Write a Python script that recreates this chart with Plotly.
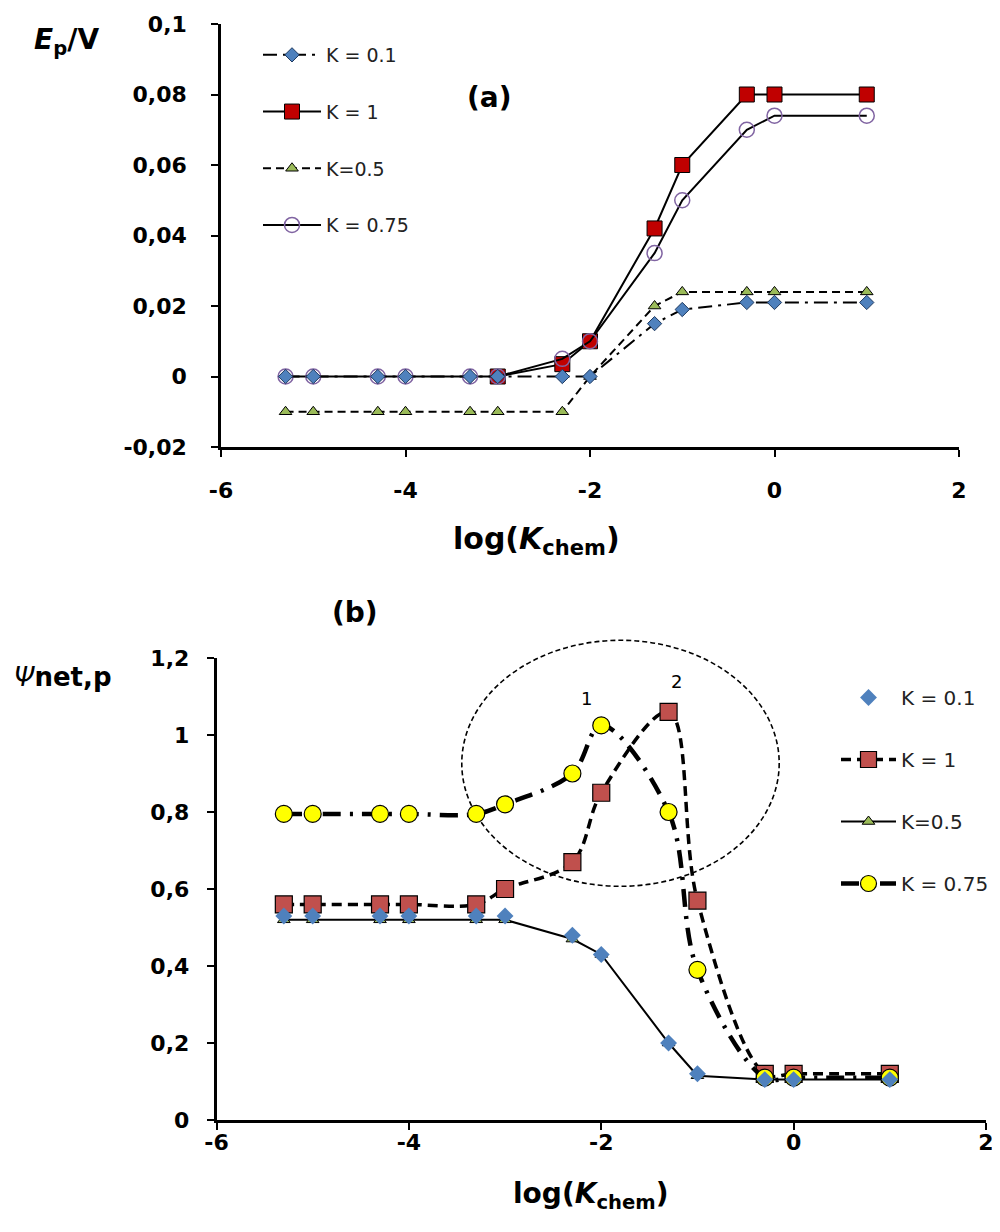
import plotly.graph_objects as go

# ---------------- data ----------------
log_k = [-5.3, -5, -4.3, -4, -3.3, -3, -2.3, -2, -1.3, -1, -0.3, 0, 1]

# panel (a): Ep / V
a_k01 = [0, 0, 0, 0, 0, 0, 0, 0, 0.015, 0.019, 0.021, 0.021, 0.021]
a_k1 = [None, None, None, None, None, 0, 0.0035, 0.010, 0.042, 0.060, 0.080, 0.080, 0.080]
a_k05 = [-0.01, -0.01, -0.01, -0.01, -0.01, -0.01, -0.01, 0, 0.020, 0.024, 0.024, 0.024, 0.024]
a_k075 = [0, 0, 0, 0, 0, 0, 0.005, 0.010, 0.035, 0.050, 0.070, 0.074, 0.074]

# panel (b): Psi net,p
b_k01 = [0.53, 0.53, 0.53, 0.53, 0.53, 0.53, 0.48, 0.43, 0.20, 0.12, 0.105, 0.105, 0.105]
b_k1 = [0.56, 0.56, 0.56, 0.56, 0.56, 0.60, 0.67, 0.85, 1.06, 0.57, 0.12, 0.12, 0.12]
b_k05 = [0.52, 0.52, 0.52, 0.52, 0.52, 0.52, 0.47, 0.43, 0.20, 0.115, 0.105, 0.105, 0.105]
b_k075 = [0.795, 0.795, 0.795, 0.795, 0.795, 0.82, 0.90, 1.025, 0.80, 0.39, 0.11, 0.11, 0.11]

names = ["K = 0.1", "K = 1", "K=0.5", "K = 0.75"]
x_ticks = [-6, -4, -2, 0, 2]
a_ticks = [-0.02, 0, 0.02, 0.04, 0.06, 0.08, 0.1]
a_ticklabels = ["-0,02", "0", "0,02", "0,04", "0,06", "0,08", "0,1"]
b_ticks = [0, 0.2, 0.4, 0.6, 0.8, 1.0, 1.2]
b_ticklabels = ["0", "0,2", "0,4", "0,6", "0,8", "1", "1,2"]

# highlighted region in panel (b) (data units)
ell_x = [-3.45, -0.15]
ell_y = [0.607, 1.246]

FONT = "'DejaVu Sans', Verdana, sans-serif"
OFF = 8              # page body margin
W, H = 990, 1206     # figure size so that figure + body margin fits without scrollbars

fig = go.Figure()

# ---------------- panel (a) ----------------
fig.add_trace(go.Scatter(x=log_k, y=a_k05, name=names[2], mode="lines+markers",
                         line=dict(color="black", width=2, dash="8px,5px"),
                         marker=dict(symbol="triangle-up", size=11, color="#9BBB59",
                                     line=dict(color="black", width=1)),
                         xaxis="x", yaxis="y", legend="legend", legendrank=3,
                         legendgroup="a3"))
fig.add_trace(go.Scatter(x=log_k, y=a_k1, name=names[1], mode="lines+markers",
                         line=dict(color="black", width=2),
                         marker=dict(symbol="square", size=15, color="#C00000",
                                     line=dict(color="black", width=1)),
                         xaxis="x", yaxis="y", legend="legend", legendrank=2,
                         legendgroup="a2"))
fig.add_trace(go.Scatter(x=log_k, y=a_k075, name=names[3], mode="lines+markers",
                         line=dict(color="black", width=2),
                         marker=dict(symbol="circle-open", size=15, color="#8064A2",
                                     line=dict(color="#8064A2", width=1.5)),
                         xaxis="x", yaxis="y", legend="legend", legendrank=4,
                         legendgroup="a4"))
fig.add_trace(go.Scatter(x=log_k, y=a_k01, name=names[0], mode="lines+markers",
                         line=dict(color="black", width=2, dash="14px,6px,3px,6px"),
                         marker=dict(symbol="diamond", size=11, color="#4F81BD",
                                     line=dict(color="#1F3A60", width=1)),
                         xaxis="x", yaxis="y", legend="legend", legendrank=1,
                         legendgroup="a1"))

# ---------------- panel (b) ----------------
fig.add_trace(go.Scatter(x=log_k, y=b_k1, name=names[1], mode="lines+markers",
                         line=dict(color="black", width=3.5, dash="10px,6px", shape="spline",
                                   smoothing=1),
                         marker=dict(symbol="square", size=17, color="#C0504D",
                                     line=dict(color="black", width=1.2)),
                         xaxis="x2", yaxis="y2", legend="legend2", legendrank=2,
                         legendgroup="b2"))
fig.add_trace(go.Scatter(x=log_k, y=b_k05, name=names[2], mode="lines+markers",
                         line=dict(color="black", width=2),
                         marker=dict(symbol="triangle-up", size=11, color="#9BBB59",
                                     line=dict(color="black", width=1)),
                         xaxis="x2", yaxis="y2", legend="legend2", legendrank=3,
                         legendgroup="b3"))
fig.add_trace(go.Scatter(x=log_k, y=b_k075, name=names[3], mode="lines+markers",
                         line=dict(color="black", width=4.5, dash="18px,9px,3px,9px",
                                   shape="spline", smoothing=1),
                         marker=dict(symbol="circle", size=17, color="#FFFF00",
                                     line=dict(color="black", width=1.2)),
                         xaxis="x2", yaxis="y2", legend="legend2", legendrank=4,
                         legendgroup="b4"))
fig.add_trace(go.Scatter(x=log_k, y=b_k01, name=names[0], mode="markers",
                         marker=dict(symbol="diamond", size=13, color="#4F81BD"),
                         xaxis="x2", yaxis="y2", legend="legend2", legendrank=1,
                         legendgroup="b1"))

# ---------------- axes ----------------
def px_x(p):
    return (p - OFF) / W

def px_y(p):
    return 1 - (p - OFF) / H

dom_x1 = [px_x(221), px_x(959)]
dom_y1 = [px_y(447), px_y(24)]
dom_x2 = [px_x(216.5), px_x(986)]
dom_y2 = [px_y(1120), px_y(658)]
rng_x = [-6, 2]
rng_y1 = [-0.02, 0.1]
rng_y2 = [0, 1.2]

axis_common = dict(showline=True, linecolor="black", linewidth=2.5, ticks="outside",
                   ticklen=7, tickwidth=2, tickcolor="black", showgrid=False,
                   zeroline=False, automargin=False,
                   tickfont=dict(family=FONT, size=22, color="black", weight="bold"),
                   fixedrange=True)

fig.update_layout(
    xaxis=dict(domain=dom_x1, range=rng_x, tickvals=x_ticks, ticklabelstandoff=15,
               ticktext=[str(t) for t in x_ticks], anchor="y", **axis_common),
    yaxis=dict(domain=dom_y1, range=rng_y1, tickvals=a_ticks, ticklabelstandoff=20,
               ticktext=a_ticklabels, anchor="x", **axis_common),
    xaxis2=dict(domain=dom_x2, range=rng_x, tickvals=x_ticks, ticklabelstandoff=-6,
                ticktext=[str(t) for t in x_ticks], anchor="y2", **axis_common),
    yaxis2=dict(domain=dom_y2, range=rng_y2, tickvals=b_ticks, ticklabelstandoff=13,
                ticktext=b_ticklabels, anchor="x2", **axis_common),
)

# ---------------- shapes / annotations ----------------
def to_paper(v, dom, rng):
    return dom[0] + (v - rng[0]) / (rng[1] - rng[0]) * (dom[1] - dom[0])

fig.add_shape(type="circle", xref="paper", yref="paper",
              x0=to_paper(ell_x[0], dom_x2, rng_x), x1=to_paper(ell_x[1], dom_x2, rng_x),
              y0=to_paper(ell_y[0], dom_y2, rng_y2), y1=to_paper(ell_y[1], dom_y2, rng_y2),
              line=dict(color="black", width=1.6, dash="5px,3px"), layer="below")

annos = [
    dict(x=px_x(66), y=px_y(42), text="<b><i>E</i><sub>p</sub>/V</b>", size=28),
    dict(x=px_x(63), y=px_y(677), text="<i>Ψ</i><b>net,p</b>", size=26),
    dict(x=px_x(489), y=px_y(98), text="<b>(a)</b>", size=28),
    dict(x=px_x(355), y=px_y(612), text="<b>(b)</b>", size=28),
    dict(x=px_x(536), y=px_y(540), text="<b>log(<i>K</i><sub>chem</sub>)</b>", size=30),
    dict(x=px_x(590), y=px_y(1195), text="<b>log(<i>K</i><sub>chem</sub>)</b>", size=28),
]
for a in annos:
    fig.add_annotation(x=a["x"], y=a["y"], xref="paper", yref="paper", text=a["text"],
                       showarrow=False, xanchor="center", yanchor="middle",
                       font=dict(family=FONT, size=a["size"], color="black"))

fig.add_annotation(x=-2.15, y=1.095, xref="x2", yref="y2", text="1", showarrow=False,
                   font=dict(family=FONT, size=18, color="black"))
fig.add_annotation(x=-1.22, y=1.14, xref="x2", yref="y2", text="2", showarrow=False,
                   font=dict(family=FONT, size=18, color="black"))

fig.update_layout(
    width=W, height=H, margin=dict(l=0, r=0, t=0, b=0, autoexpand=False),
    paper_bgcolor="white", plot_bgcolor="white",
    font=dict(family=FONT, color="black"),
    legend=dict(x=px_x(258), y=px_y(36), xanchor="left", yanchor="top",
                bgcolor="rgba(0,0,0,0)", font=dict(family=FONT, size=19, color="#222"),
                itemwidth=58, tracegroupgap=29, traceorder="grouped"),
    legend2=dict(x=px_x(836), y=px_y(678), xanchor="left", yanchor="top",
                 bgcolor="rgba(0,0,0,0)", font=dict(family=FONT, size=20, color="#222"),
                 itemwidth=55, tracegroupgap=33, traceorder="grouped"),
)

fig.write_html("out.html")
